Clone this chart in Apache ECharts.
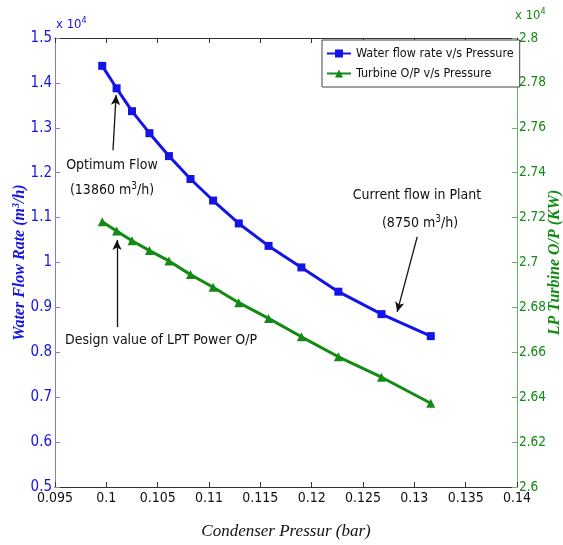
<!DOCTYPE html>
<html>
<head>
<meta charset="utf-8">
<script src="https://cdn.jsdelivr.net/npm/echarts@6/dist/echarts.min.js"></script>
<style>
  html, body { margin: 0; padding: 0; background: #fff; }
  #chart { width: 563px; height: 545px; }
</style>
</head>
<body>
<div id="chart"></div>
<script>
// presion del condensador (bar)
var pressure = [0.0996, 0.1010, 0.1025, 0.1042, 0.1061, 0.1082, 0.1104, 0.1129, 0.1158, 0.1190, 0.1226, 0.1268, 0.1316];
// caudal de agua (x 10^4 m3/h)
var waterFlow = [1.438, 1.388, 1.337, 1.288, 1.237, 1.186, 1.138, 1.087, 1.037, 0.989, 0.935, 0.885, 0.836];
// potencia turbina LP (x 10^4 KW)
var turbineOut = [2.7182, 2.7140, 2.7097, 2.7053, 2.7007, 2.6946, 2.6890, 2.6821, 2.6751, 2.6669, 2.6580, 2.6489, 2.6373];

var seriesNames = ["Water flow rate v/s Pressure", "Turbine O/P v/s Pressure"];

// flechas de anotacion [x1, y1, x2, y2] en unidades del eje izquierdo
var arrows = [
  [0.10065, 1.250, 0.10095, 1.373],
  [0.10104, 0.856, 0.10104, 1.050],
  [0.13028, 1.057, 0.12833, 0.890]
];

var narrow = "'Liberation Sans Narrow', 'Arial Narrow', 'DejaVu Sans Condensed', sans-serif";
var serif = "'Liberation Serif', 'Times New Roman', serif";
var blue = "#1414e6";
var green = "#138a13";

function pairs(xs, ys) {
  return xs.map(function (x, i) { return [x, ys[i]]; });
}

var chart = echarts.init(document.getElementById("chart"));

var option = {
  animation: false,
  textStyle: { fontFamily: narrow },
  grid: { left: 55, right: 46, top: 38, bottom: 58, containLabel: false, outerBoundsMode: "none" },
  legend: {
    orient: "vertical",
    left: 322,
    top: 40,
    padding: [7, 6, 7, 4],
    itemGap: 7,
    itemWidth: 24,
    itemHeight: 10,
    backgroundColor: "#fff",
    borderColor: "#444",
    borderWidth: 1,
    textStyle: { fontFamily: narrow, fontSize: 12.5, color: "#111" },
    data: seriesNames
  },
  xAxis: [
    {
      type: "value",
      min: 0.095, max: 0.14, interval: 0.005,
      name: "Condenser Pressur (bar)",
      nameLocation: "middle",
      nameGap: 36,
      nameMoveOverlap: false,
      nameTextStyle: { fontFamily: serif, fontStyle: "italic", fontSize: 17, color: "#111" },
      axisLine: { lineStyle: { color: "#333", width: 1 } },
      axisTick: { inside: true, length: 5, lineStyle: { color: "#333" } },
      axisLabel: {
        color: "#111", fontSize: 14, margin: 4,
        formatter: function (v) { return String(parseFloat(v.toFixed(3))); }
      },
      splitLine: { show: false }
    },
    {
      type: "value", position: "top",
      min: 0.095, max: 0.14, interval: 0.005,
      axisLine: { lineStyle: { color: "#333", width: 1 } },
      axisTick: { inside: true, length: 5, lineStyle: { color: "#333" } },
      axisLabel: { show: false },
      splitLine: { show: false }
    }
  ],
  yAxis: [
    {
      type: "value",
      min: 0.5, max: 1.5, interval: 0.1,
      name: "{t|Water Flow Rate (m}{s|3}{t|/h)}",
      nameLocation: "middle",
      nameRotate: 90,
      nameGap: 26,
      nameMoveOverlap: false,
      nameTextStyle: {
        rich: {
          t: { fontFamily: serif, fontStyle: "italic", fontWeight: "bold", fontSize: 16, color: blue },
          s: { fontFamily: serif, fontStyle: "italic", fontWeight: "bold", fontSize: 10, color: blue, verticalAlign: "top", padding: [0, 0, 8, 0] }
        }
      },
      axisLine: { show: true, lineStyle: { color: "#7a7ae8", width: 1 } },
      axisTick: { inside: true, length: 5, lineStyle: { color: "#7a7ae8" } },
      axisLabel: {
        color: blue, fontSize: 15, margin: 3,
        formatter: function (v) { return String(parseFloat(v.toFixed(2))); }
      },
      splitLine: { show: false }
    },
    {
      type: "value",
      min: 2.6, max: 2.8, interval: 0.02,
      name: "LP Turbine O/P (KW)",
      nameLocation: "middle",
      nameRotate: 90,
      nameGap: 30,
      nameMoveOverlap: false,
      nameTextStyle: { fontFamily: serif, fontStyle: "italic", fontWeight: "bold", fontSize: 16, color: green },
      axisLine: { show: true, lineStyle: { color: "#6ab46a", width: 1 } },
      axisTick: { inside: true, length: 5, lineStyle: { color: "#6ab46a" } },
      axisLabel: {
        color: green, fontSize: 13.5, margin: 2,
        formatter: function (v) { return String(parseFloat(v.toFixed(2))); }
      },
      splitLine: { show: false }
    }
  ],
  series: [
    {
      name: seriesNames[0],
      type: "line",
      xAxisIndex: 0, yAxisIndex: 0,
      data: pairs(pressure, waterFlow),
      symbol: "rect",
      symbolSize: 8,
      itemStyle: { color: blue },
      lineStyle: { color: blue, width: 3 },
      markLine: {
        silent: true,
        symbol: ["none", "arrow"],
        symbolSize: [7, 10],
        label: { show: false },
        lineStyle: { color: "#111", width: 1.3, type: "solid" },
        data: arrows.map(function (a) {
          return [{ coord: [a[0], a[1]] }, { coord: [a[2], a[3]] }];
        })
      }
    },
    {
      name: seriesNames[1],
      type: "line",
      xAxisIndex: 0, yAxisIndex: 1,
      data: pairs(pressure, turbineOut),
      symbol: "triangle",
      symbolSize: 9,
      itemStyle: { color: green },
      lineStyle: { color: green, width: 3 }
    }
  ],
  graphic: [
    { type: "text", left: 56, top: 16, style: { text: "{a|x 10}{b|4}", rich: { a: { fontFamily: narrow, fontSize: 13, fill: blue }, b: { fontFamily: narrow, fontSize: 9, fill: blue, verticalAlign: "top", padding: [0, 0, 8, 0] } } } },
    { type: "text", left: 515, top: 7, style: { text: "{a|x 10}{b|4}", rich: { a: { fontFamily: narrow, fontSize: 13, fill: green }, b: { fontFamily: narrow, fontSize: 9, fill: green, verticalAlign: "top", padding: [0, 0, 8, 0] } } } },
    { type: "text", x: 112, y: 165, style: { text: "Optimum Flow", font: "14px " + narrow, fill: "#111", align: "center", verticalAlign: "middle" } },
    { type: "text", x: 112, y: 190, style: { text: "{a|(13860 m}{b|3}{a|/h)}", align: "center", verticalAlign: "middle", rich: { a: { fontFamily: narrow, fontSize: 14, fill: "#111" }, b: { fontFamily: narrow, fontSize: 10, fill: "#111", verticalAlign: "top", padding: [0, 0, 8, 0] } } } },
    { type: "text", x: 161, y: 340, style: { text: "Design value of LPT Power O/P", font: "14px " + narrow, fill: "#111", align: "center", verticalAlign: "middle" } },
    { type: "text", x: 417, y: 195, style: { text: "Current flow in Plant", font: "14px " + narrow, fill: "#111", align: "center", verticalAlign: "middle" } },
    { type: "text", x: 420, y: 223, style: { text: "{a|(8750 m}{b|3}{a|/h)}", align: "center", verticalAlign: "middle", rich: { a: { fontFamily: narrow, fontSize: 14, fill: "#111" }, b: { fontFamily: narrow, fontSize: 10, fill: "#111", verticalAlign: "top", padding: [0, 0, 8, 0] } } } }
  ]
};

chart.setOption(option);
</script>
</body>
</html>
